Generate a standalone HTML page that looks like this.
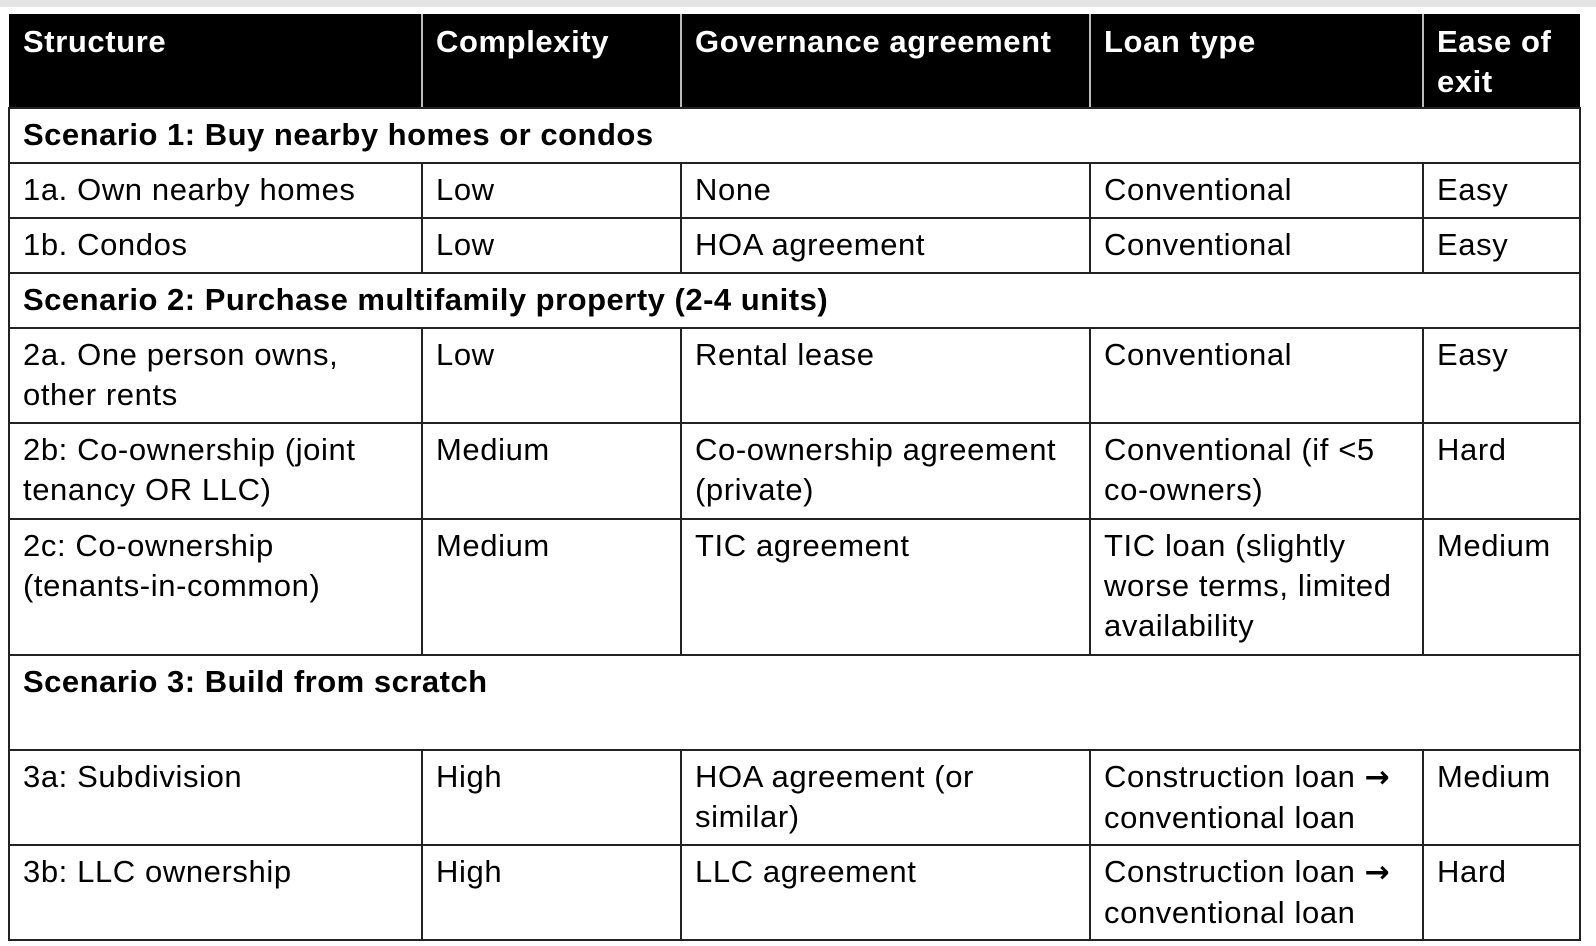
<!DOCTYPE html>
<html><head><meta charset="utf-8"><style>
html,body{margin:0;padding:0;background:#fff;width:1596px;height:946px;overflow:hidden}
.strip{position:absolute;left:0;top:0;width:1596px;height:7px;background:#e4e4e4}
.c{position:absolute;box-sizing:border-box;font-family:"Liberation Sans",sans-serif;font-size:31px;letter-spacing:0.6px;line-height:40px;padding:6px 0 0 14px;white-space:nowrap;color:#000}
.h{color:#fff;font-weight:bold;padding-top:0}
.b{font-weight:bold;letter-spacing:0.5px}
.ar{font-family:"DejaVu Sans",sans-serif;font-weight:bold;font-size:30px}
.hl{position:absolute;background:#222;height:2px}
.vl{position:absolute;background:#222;width:2px}
</style></head><body>
<div class="strip"></div>
<div style="position:absolute;left:9px;top:14px;width:1571px;height:94px;background:#000"></div>
<div style="position:absolute;left:421px;top:14px;width:2px;height:94px;background:#bbb"></div>
<div style="position:absolute;left:680px;top:14px;width:2px;height:94px;background:#bbb"></div>
<div style="position:absolute;left:1089px;top:14px;width:2px;height:94px;background:#bbb"></div>
<div style="position:absolute;left:1422px;top:14px;width:2px;height:94px;background:#bbb"></div>
<div class="hl" style="left:9px;top:107px;width:1572px"></div>
<div class="hl" style="left:9px;top:162px;width:1572px"></div>
<div class="hl" style="left:9px;top:217px;width:1572px"></div>
<div class="hl" style="left:9px;top:272px;width:1572px"></div>
<div class="hl" style="left:9px;top:327px;width:1572px"></div>
<div class="hl" style="left:9px;top:422px;width:1572px"></div>
<div class="hl" style="left:9px;top:518px;width:1572px"></div>
<div class="hl" style="left:9px;top:654px;width:1572px"></div>
<div class="hl" style="left:9px;top:749px;width:1572px"></div>
<div class="hl" style="left:9px;top:844px;width:1572px"></div>
<div class="hl" style="left:9px;top:939px;width:1572px"></div>
<div class="vl" style="left:8px;top:107px;height:834px"></div>
<div class="vl" style="left:1579px;top:107px;height:834px"></div>
<div class="vl" style="left:421px;top:162px;height:111px"></div>
<div class="vl" style="left:680px;top:162px;height:111px"></div>
<div class="vl" style="left:1089px;top:162px;height:111px"></div>
<div class="vl" style="left:1422px;top:162px;height:111px"></div>
<div class="vl" style="left:421px;top:327px;height:328px"></div>
<div class="vl" style="left:680px;top:327px;height:328px"></div>
<div class="vl" style="left:1089px;top:327px;height:328px"></div>
<div class="vl" style="left:1422px;top:327px;height:328px"></div>
<div class="vl" style="left:421px;top:749px;height:192px"></div>
<div class="vl" style="left:680px;top:749px;height:192px"></div>
<div class="vl" style="left:1089px;top:749px;height:192px"></div>
<div class="vl" style="left:1422px;top:749px;height:192px"></div>

<div class="c h" style="left:9px;top:22px">Structure</div>
<div class="c h" style="left:422px;top:22px">Complexity</div>
<div class="c h" style="left:681px;top:22px">Governance agreement</div>
<div class="c h" style="left:1090px;top:22px">Loan type</div>
<div class="c h" style="left:1423px;top:22px">Ease of<br>exit</div>

<div class="c b" style="left:9px;top:109px">Scenario 1: Buy nearby homes or condos</div>
<div class="c" style="left:9px;top:164px">1a. Own nearby homes</div>
<div class="c" style="left:422px;top:164px">Low</div>
<div class="c" style="left:681px;top:164px">None</div>
<div class="c" style="left:1090px;top:164px">Conventional</div>
<div class="c" style="left:1423px;top:164px">Easy</div>
<div class="c" style="left:9px;top:219px">1b. Condos</div>
<div class="c" style="left:422px;top:219px">Low</div>
<div class="c" style="left:681px;top:219px">HOA agreement</div>
<div class="c" style="left:1090px;top:219px">Conventional</div>
<div class="c" style="left:1423px;top:219px">Easy</div>

<div class="c b" style="left:9px;top:274px">Scenario 2: Purchase multifamily property (2-4 units)</div>
<div class="c" style="left:9px;top:329px">2a. One person owns,<br>other rents</div>
<div class="c" style="left:422px;top:329px">Low</div>
<div class="c" style="left:681px;top:329px">Rental lease</div>
<div class="c" style="left:1090px;top:329px">Conventional</div>
<div class="c" style="left:1423px;top:329px">Easy</div>
<div class="c" style="left:9px;top:424px">2b: Co-ownership (joint<br>tenancy OR LLC)</div>
<div class="c" style="left:422px;top:424px">Medium</div>
<div class="c" style="left:681px;top:424px">Co-ownership agreement<br>(private)</div>
<div class="c" style="left:1090px;top:424px">Conventional (if &lt;5<br>co-owners)</div>
<div class="c" style="left:1423px;top:424px">Hard</div>
<div class="c" style="left:9px;top:520px">2c: Co-ownership<br>(tenants-in-common)</div>
<div class="c" style="left:422px;top:520px">Medium</div>
<div class="c" style="left:681px;top:520px">TIC agreement</div>
<div class="c" style="left:1090px;top:520px">TIC loan (slightly<br>worse terms, limited<br>availability</div>
<div class="c" style="left:1423px;top:520px">Medium</div>

<div class="c b" style="left:9px;top:656px">Scenario 3: Build from scratch</div>
<div class="c" style="left:9px;top:751px">3a: Subdivision</div>
<div class="c" style="left:422px;top:751px">High</div>
<div class="c" style="left:681px;top:751px">HOA agreement (or<br>similar)</div>
<div class="c" style="left:1090px;top:751px">Construction loan <span class="ar">→</span><br>conventional loan</div>
<div class="c" style="left:1423px;top:751px">Medium</div>
<div class="c" style="left:9px;top:846px">3b: LLC ownership</div>
<div class="c" style="left:422px;top:846px">High</div>
<div class="c" style="left:681px;top:846px">LLC agreement</div>
<div class="c" style="left:1090px;top:846px">Construction loan <span class="ar">→</span><br>conventional loan</div>
<div class="c" style="left:1423px;top:846px">Hard</div>
</body></html>
